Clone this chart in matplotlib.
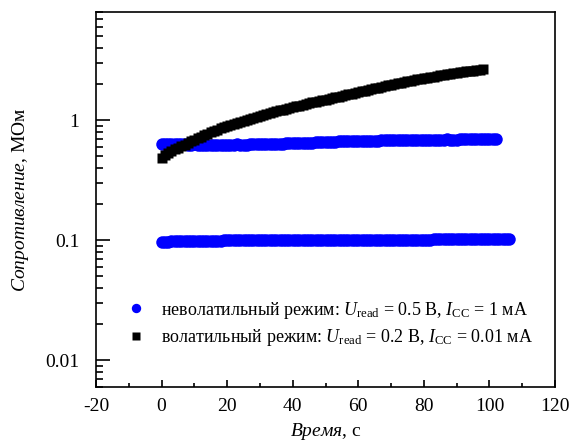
import matplotlib
matplotlib.use("Agg")
import matplotlib.pyplot as plt
from matplotlib.ticker import FixedLocator, LogLocator, NullFormatter, MultipleLocator
import numpy as np

plt.rcParams['font.family'] = ['Liberation Serif', 'DejaVu Serif']
plt.rcParams['mathtext.fontset'] = 'custom'
plt.rcParams['mathtext.rm'] = 'Liberation Serif'
plt.rcParams['mathtext.it'] = 'Liberation Serif:italic'
plt.rcParams['mathtext.bf'] = 'Liberation Serif:bold'
plt.rcParams['axes.unicode_minus'] = False

# ---- data ----
t_black = list(range(0, 99))
r_black = [0.490, 0.512, 0.533, 0.553, 0.572, 0.590, 0.608, 0.627, 0.648, 0.669,
           0.690, 0.711, 0.733, 0.754, 0.776, 0.797, 0.818, 0.839, 0.859, 0.878,
           0.897, 0.917, 0.936, 0.956, 0.975, 0.994, 1.013, 1.032, 1.051, 1.070,
           1.090, 1.110, 1.130, 1.150, 1.170, 1.190, 1.210, 1.230, 1.250, 1.270,
           1.290, 1.310, 1.330, 1.350, 1.370, 1.390, 1.410, 1.430, 1.450, 1.470,
           1.490, 1.512, 1.534, 1.556, 1.578, 1.600, 1.622, 1.645, 1.668, 1.692,
           1.716, 1.741, 1.767, 1.794, 1.821, 1.848, 1.875, 1.902, 1.929, 1.956,
           1.983, 2.010, 2.037, 2.064, 2.090, 2.116, 2.142, 2.168, 2.194, 2.220,
           2.245, 2.270, 2.295, 2.320, 2.344, 2.368, 2.392, 2.416, 2.440, 2.464,
           2.488, 2.512, 2.535, 2.558, 2.580, 2.602, 2.624, 2.646, 2.668]

t_blue_high = list(range(0, 103))
r_blue_high = [0.640, 0.638, 0.636, 0.634, 0.633, 0.635, 0.632, 0.630, 0.627, 0.629,
               0.630, 0.626, 0.628, 0.629, 0.626, 0.625, 0.628, 0.629, 0.626, 0.628,
               0.626, 0.625, 0.628, 0.630, 0.629, 0.626, 0.627, 0.630, 0.631, 0.632,
               0.635, 0.633, 0.636, 0.638, 0.637, 0.639, 0.636, 0.640, 0.642, 0.645,
               0.646, 0.647, 0.645, 0.648, 0.650, 0.651, 0.654, 0.656, 0.657, 0.658,
               0.660, 0.664, 0.665, 0.663, 0.667, 0.668, 0.669, 0.672, 0.671, 0.674,
               0.675, 0.676, 0.677, 0.676, 0.678, 0.679, 0.678, 0.680, 0.681, 0.680,
               0.682, 0.683, 0.682, 0.684, 0.683, 0.684, 0.686, 0.687, 0.686, 0.685,
               0.687, 0.688, 0.689, 0.688, 0.690, 0.689, 0.691, 0.693, 0.692, 0.691,
               0.692, 0.694, 0.695, 0.693, 0.695, 0.696, 0.695, 0.697, 0.696, 0.697,
               0.698, 0.697, 0.698]

t_blue_low = list(range(0, 107))
r_blue_low = [0.0975, 0.0976, 0.0978, 0.0980, 0.0981, 0.0983, 0.0985, 0.0984, 0.0987, 0.0988,
              0.0989, 0.0990, 0.0991, 0.0992, 0.0995, 0.0993, 0.0996, 0.0997, 0.0995, 0.0998,
              0.0999, 0.1000, 0.1001, 0.0999, 0.1000, 0.1004, 0.1002, 0.1001, 0.1004, 0.1005,
              0.1004, 0.1002, 0.1001, 0.1002, 0.1003, 0.1002, 0.1001, 0.1003, 0.1002, 0.1003,
              0.1004, 0.1006, 0.1005, 0.1003, 0.1004, 0.1006, 0.1007, 0.1006, 0.1004, 0.1005,
              0.1004, 0.1005, 0.1007, 0.1008, 0.1007, 0.1006, 0.1004, 0.1005, 0.1006, 0.1008,
              0.1009, 0.1008, 0.1010, 0.1009, 0.1008, 0.1006, 0.1007, 0.1009, 0.1010, 0.1011,
              0.1010, 0.1011, 0.1012, 0.1011, 0.1012, 0.1013, 0.1012, 0.1013, 0.1014, 0.1013,
              0.1014, 0.1015, 0.1016, 0.1020, 0.1022, 0.1023, 0.1026, 0.1027, 0.1025, 0.1024,
              0.1026, 0.1027, 0.1028, 0.1027, 0.1029, 0.1028, 0.1029, 0.1030, 0.1029, 0.1030,
              0.1031, 0.1030, 0.1031, 0.1030, 0.1029, 0.1028, 0.1027]

label_nonvol = 'неволатильный режим: $U_{\\mathrm{read}}$ = 0.5 В, $I_{\\mathrm{CC}}$ = 1 мА'
label_vol = 'волатильный режим: $U_{\\mathrm{read}}$ = 0.2 В, $I_{\\mathrm{CC}}$ = 0.01 мА'

xticks = [-20, 0, 20, 40, 60, 80, 100, 120]
yticks = [0.01, 0.1, 1]
ytick_labels = ['0.01', '0.1', '1']

# ---- figure ----
fig = plt.figure(figsize=(5.71, 4.46), dpi=100)
ax = fig.add_axes([96/571, 1-387/446, (555-96)/571, (387-12)/446])

ax.plot(t_blue_low, r_blue_low, 'o', color='#0000ff', ms=9.0, mec='none', zorder=2)
ax.plot(t_blue_high, r_blue_high, 'o', color='#0000ff', ms=9.0, mec='none', zorder=2,
        label=label_nonvol)
ax.plot(t_black, r_black, 's', color='black', ms=7.0, mec='none', zorder=3,
        label=label_vol)

ax.set_yscale('log')
ax.set_xlim(-20, 120)
ax.set_ylim(0.006, 8)

ax.xaxis.set_major_locator(FixedLocator(xticks))
ax.xaxis.set_minor_locator(MultipleLocator(10))
ax.yaxis.set_major_locator(FixedLocator(yticks))
ax.set_yticklabels(ytick_labels)
ax.yaxis.set_minor_locator(LogLocator(base=10, subs=np.arange(2, 10)))
ax.yaxis.set_minor_formatter(NullFormatter())

for s in ax.spines.values():
    s.set_linewidth(1.2)

ax.tick_params(axis='both', which='both', direction='in', width=1.2,
               top=False, right=False, labelsize=14)
ax.tick_params(axis='y', which='major', length=10, pad=12)
ax.tick_params(axis='y', which='minor', length=5)
ax.tick_params(axis='x', which='major', length=5, pad=8)
ax.tick_params(axis='x', which='minor', length=3)

ax.set_xlabel('$\\mathit{Время}$, с', fontsize=14, labelpad=4)
ax.set_ylabel('$\\mathit{Сопротивление}$, МОм', fontsize=14, labelpad=10)

leg = ax.legend(loc='lower left', bbox_to_anchor=(0.05, 0.085), frameon=False,
                fontsize=13, handlelength=1.1, handletextpad=0.85,
                labelspacing=0.35, borderaxespad=0, markerscale=0.75)

fig.savefig('out.png', dpi=100)
